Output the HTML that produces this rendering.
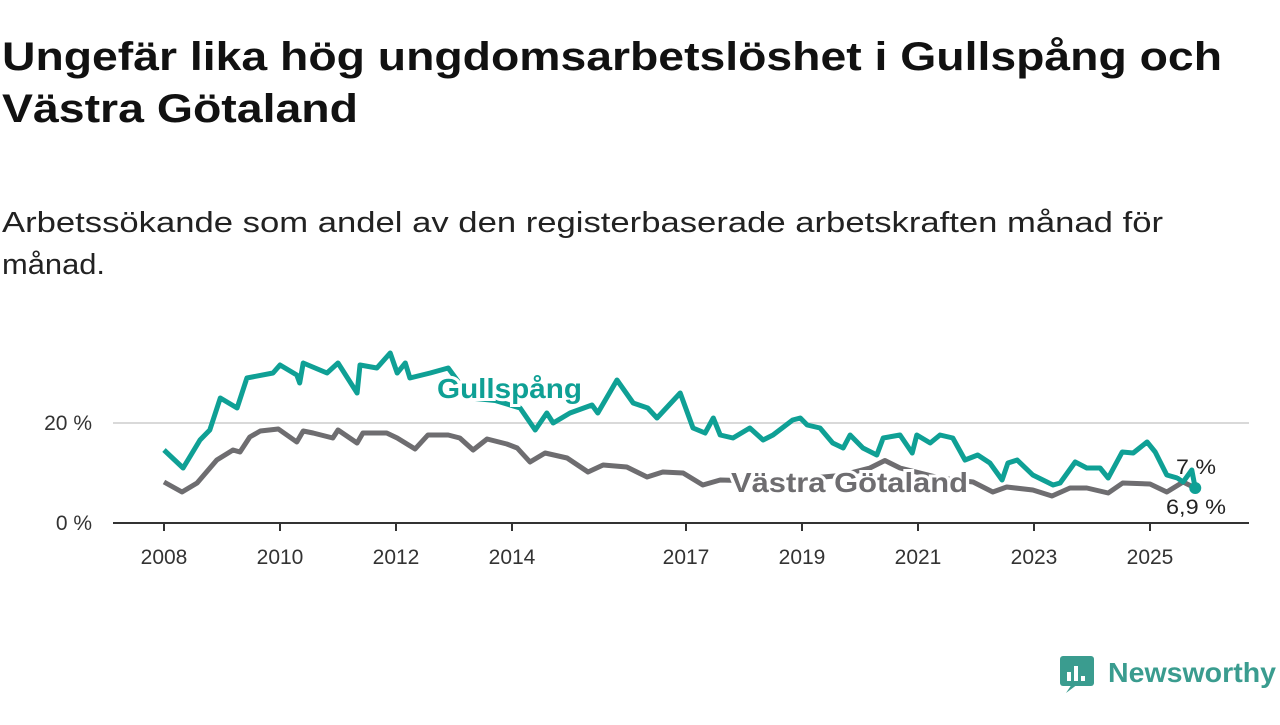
<!DOCTYPE html>
<html><head><meta charset="utf-8"><style>
body{margin:0;background:#fff;width:1280px;height:720px;overflow:hidden;font-family:"Liberation Sans",sans-serif;}
</style></head><body>
<svg width="1280" height="720" xmlns="http://www.w3.org/2000/svg">
<text x="2" y="70" font-size="40" font-weight="bold" fill="#111" textLength="1220" lengthAdjust="spacingAndGlyphs">Ungefär lika hög ungdomsarbetslöshet i Gullspång och</text>
<text x="2" y="122" font-size="40" font-weight="bold" fill="#111" textLength="356" lengthAdjust="spacingAndGlyphs">Västra Götaland</text>
<text x="2" y="232" font-size="29" fill="#222" textLength="1161" lengthAdjust="spacingAndGlyphs">Arbetssökande som andel av den registerbaserade arbetskraften månad för</text>
<text x="2" y="274" font-size="29" fill="#222" textLength="103" lengthAdjust="spacingAndGlyphs">månad.</text>
<g id="plot"></g>
<g>
<rect x="1060" y="656" width="34" height="30" rx="3" fill="#3a9c8f"/>
<path d="M1066 693 L1072 684 L1078 684 Z" fill="#3a9c8f"/>
<rect x="1067" y="672" width="4" height="9" fill="#fff"/><rect x="1074" y="666" width="4" height="15" fill="#fff"/><rect x="1081" y="676" width="4" height="5" fill="#fff"/>
<text x="1108" y="682" font-size="28" font-weight="bold" fill="#3a9c8f" textLength="168" lengthAdjust="spacingAndGlyphs">Newsworthy</text>
</g>
</svg>
<script>
const gDates=[2008.00,2008.33,2008.62,2008.79,2008.97,2009.26,2009.43,2009.88,2010.00,2010.29,2010.34,2010.40,2010.81,2011.00,2011.33,2011.38,2011.67,2011.90,2012.02,2012.16,2012.24,2012.59,2012.90,2013.28,2013.71,2014.14,2014.40,2014.60,2014.71,2015.00,2015.38,2015.48,2015.81,2016.09,2016.34,2016.50,2016.90,2017.12,2017.33,2017.47,2017.59,2017.81,2018.10,2018.33,2018.50,2018.84,2018.97,2019.09,2019.31,2019.53,2019.71,2019.83,2020.05,2020.29,2020.40,2020.69,2020.90,2020.98,2021.21,2021.38,2021.60,2021.81,2022.03,2022.24,2022.45,2022.55,2022.71,2022.98,2023.33,2023.45,2023.71,2023.91,2024.14,2024.28,2024.52,2024.71,2024.95,2025.09,2025.29,2025.47,2025.57,2025.72,2025.78];
const gullspang=[14.6,11,16.6,18.6,25,23,29,30,31.6,29.6,28,32,30,32,26,31.6,31,34,30,32,29,30,31,25,24.5,23,18.6,22,20,22,23.6,22,28.6,24,23,21,26,19,18,21,17.6,17,19,16.6,17.6,20.6,21,19.6,19,16,15,17.6,15,13.6,17,17.6,14,17.6,16,17.6,17,12.6,13.6,12,8.6,12,12.6,9.6,7.6,8,12.2,11,11,9,14.2,14,16.2,14.2,9.6,9,8.2,10.6,7];
const vDates=[2008.00,2008.31,2008.57,2008.91,2009.19,2009.31,2009.48,2009.66,2009.97,2010.29,2010.40,2010.57,2010.91,2011.00,2011.33,2011.43,2011.84,2012.02,2012.33,2012.55,2012.90,2013.10,2013.33,2013.57,2013.91,2014.09,2014.31,2014.57,2014.95,2015.31,2015.57,2015.98,2016.33,2016.60,2016.95,2017.29,2017.59,2018.28,2018.97,2019.66,2020.17,2020.43,2020.69,2021.38,2021.95,2022.29,2022.53,2022.98,2023.31,2023.62,2023.91,2024.28,2024.53,2025.00,2025.29,2025.57,2025.78];
const vastra=[8.2,6.2,8,12.6,14.6,14.2,17.2,18.4,18.8,16.2,18.4,18,17,18.6,16,18,18,17,14.8,17.6,17.6,17,14.6,16.8,15.8,15,12.2,14,13,10.2,11.6,11.2,9.2,10.2,10,7.6,8.6,8.4,8.8,9.5,11,12.5,11,9,8.2,6.2,7.2,6.6,5.4,7,7,6,8,7.8,6.2,8.2,7];
const xTicks=[2008,2010,2012,2014,2017,2019,2021,2023,2025];
const yTicks=[0,20];
const yTickLabels=["0 %","20 %"];
const NS="http://www.w3.org/2000/svg";
const X=y=>164+(y-2008)*58, Y=v=>523-v*5;
const plot=document.getElementById('plot');
function mk(t,a,p){const e=document.createElementNS(NS,t);for(const k in a)e.setAttribute(k,a[k]);(p||plot).appendChild(e);return e;}
yTicks.forEach((v,i)=>{
 if(v>0){const l=mk('line',{x1:113,x2:1249,y1:Y(v),y2:Y(v),stroke:'#d9d9d9','stroke-width':2});
 
 }
 const t=mk('text',{x:92,y:Y(v)+7,'font-size':21,fill:'#333','text-anchor':'end'});t.textContent=yTickLabels[i];
 
 
});
const ax=mk('line',{x1:113,x2:1249,y1:523,y2:523,stroke:'#333','stroke-width':2});


xTicks.forEach(yr=>{
 mk('line',{x1:X(yr),x2:X(yr),y1:523,y2:531,stroke:'#333','stroke-width':2});
 const t=mk('text',{x:X(yr),y:564,'font-size':21,fill:'#333','text-anchor':'middle'});t.textContent=yr;
 
 
});
function line(d,v,c,name){const p=mk('path',{d:d.map((x,i)=>(i?'L':'M')+X(x).toFixed(1)+' '+Y(v[i]).toFixed(1)).join(''),fill:'none',stroke:c,'stroke-width':5,'stroke-linejoin':'round'});
 
 }
line(vDates,vastra,'#6e6d70','line-vastra-gotaland');
line(gDates,gullspang,'#0fa095','line-gullspang');
const dot=mk('circle',{cx:X(gDates[gDates.length-1]),cy:Y(gullspang[gullspang.length-1]),r:6,fill:'#0fa095'});


function lab(x,y,s,c,name,size,bold,len){const a={x:x,y:y,'font-size':size,fill:c,'font-weight':bold?'bold':'normal',stroke:'#fff','stroke-width':bold?6:4,'paint-order':'stroke'};if(len){a.textLength=len;a.lengthAdjust='spacingAndGlyphs';}const t=mk('text',a);t.textContent=s;
 
 }
lab(437,398,'Gullspång','#0fa095','label-gullspang',28,true,145);
lab(731,492,'Västra Götaland','#6e6d70','label-vastra-gotaland',28,true,237);
lab(1176,474,'7 %','#222','value-label-gullspang',21,false,40);
lab(1166,514,'6,9 %','#222','value-label-vastra',21,false,60);
</script>
</body></html>
